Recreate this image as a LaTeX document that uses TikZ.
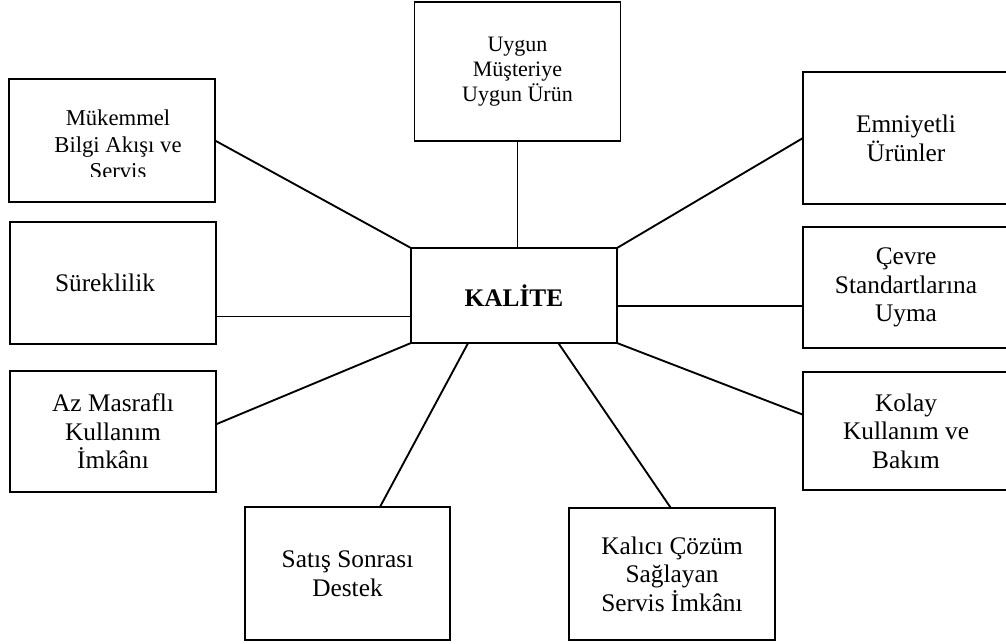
\documentclass[tikz,border=0pt]{standalone}
\usepackage{fontspec}
\setmainfont{Liberation Serif}
\usepackage{tikz}
\usetikzlibrary{positioning}

\begin{document}
\begin{tikzpicture}[x=0.75pt, y={(0pt,-0.75pt)}, line width=1.4pt]
	\tikzstyle{box} = [draw, rectangle, outer sep=0pt, inner sep=2pt, align=center, minimum width=154.5pt, font=\fontsize{19}{21.5}\selectfont]
	\tikzstyle{small} = [font=\fontsize{16.5}{18.8}\selectfont]
	\clip (0,0) rectangle (1006,643);
	\node[box, small, minimum height=104.25pt] (uygun) at (517.5,71.5) {Uygun\\Müşteriye\\Uygun Ürün};
	\node[box, minimum height=92.25pt] (mukemmel) at (112,140.5) {};
	\begin{scope}
		\clip (9,79) rectangle (215,176);
		\node[font=\fontsize{17}{20}\selectfont, align=center, xshift=4.5pt, yshift=-3pt] (mukemmeltxt) at (mukemmel.center) {Mükemmel\\Bilgi Akışı ve\\Servis};
	\end{scope}
	\node[box, minimum height=99pt] (emniyet) at (906,138) {Emniyetli\\Ürünler};
	\node[box, minimum height=91.5pt] (sure) at (113,283) {Süreklilik\hspace*{12pt}};
	\node[box, minimum height=71.25pt] (kalite) at (514,295.5) {\bfseries KALİTE};
	\node[box, minimum height=90.75pt] (cevre) at (906,287.5) {Çevre\\Standartlarına\\Uyma};
	\node[box, minimum height=90.75pt] (azmas) at (113,431.5) {Az Masraflı\\Kullanım\\İmkânı};
	\node[box, minimum height=88.5pt] (kolay) at (906,431) {Kolay\\Kullanım ve\\Bakım};
	\node[box, minimum height=99.75pt, minimum width=153.75pt] (satis) at (347.5,573.5) {Satış Sonrası\\Destek};
	\node[box, minimum height=99pt] (kalici) at (672,574) {Kalıcı Çözüm\\Sağlayan\\Servis İmkânı};
	\draw (uygun.south) -- (uygun.south |- kalite.north);
	\draw (mukemmel.east) -- (kalite.north west);
	\draw (emniyet.west) -- (kalite.north east);
	\draw (sure.-18.8) -- (sure.-18.8 -| kalite.west);
	\draw (cevre.190.7) -- (cevre.190.7 -| kalite.east);
	\draw (azmas.4.7) -- (kalite.south west);
	\draw (kolay.171.2) -- (kalite.south east);
	\draw (satis.64.65) -- (kalite.-134.1);
	\draw (kalici.91.7) -- (kalite.-47.2);
\end{tikzpicture}
\end{document}
